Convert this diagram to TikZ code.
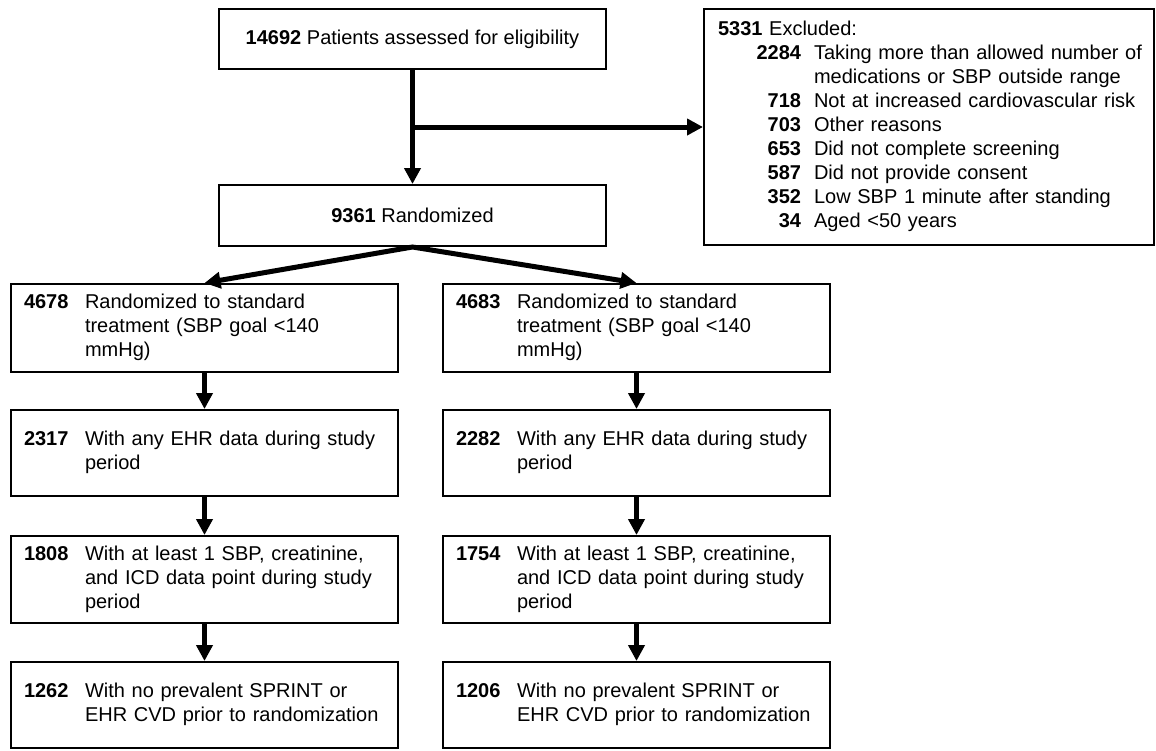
\documentclass[tikz,border=0pt]{standalone}
\usepackage{fontspec}
\setmainfont{Liberation Sans}
\usepackage{array}
\usetikzlibrary{arrows.meta}
\newcommand\flowtext[2]{\begin{tabular}{@{}p{61pt}@{}l@{}}\textbf{#1} & #2\end{tabular}}
\begin{document}
\begin{tikzpicture}[x=1pt,y=-1pt,
  box/.style={draw, line width=2pt, inner sep=0pt, font=\fontsize{20}{24}\selectfont},
  flowbox/.style={box, minimum width=387pt, text width=361pt, inner xsep=13pt, align=left},
  tipstyle/.style={-{Triangle[length=16pt,width=16pt]}},
  conn/.style={line width=5pt, tipstyle}]
\useasboundingbox (0,0) rectangle (1156,750);

\node[box, minimum width=387pt, minimum height=60pt] (top) at (412.5,39)
  {\textbf{14692} Patients assessed for eligibility};
\node[box, minimum width=387pt, minimum height=61pt] (ran) at (412.5,215.5)
  {\textbf{9361} Randomized};
\node[box, anchor=north west, minimum width=450pt, minimum height=236pt,
  text width=422pt, inner xsep=14pt, align=left] (exc) at (703,8)
  {\begin{tabular}{@{}>{\raggedleft\arraybackslash}p{83pt}@{\hspace{13pt}}l@{}}
   \multicolumn{2}{@{}l@{}}{\textbf{5331} Excluded:}\\
   \textbf{2284} & Taking more than allowed number of\\
    & medications or SBP outside range\\
   \textbf{718} & Not at increased cardiovascular risk\\
   \textbf{703} & Other reasons\\
   \textbf{653} & Did not complete screening\\
   \textbf{587} & Did not provide consent\\
   \textbf{352} & Low SBP 1 minute after standing\\
   \textbf{34} & Aged <50 years
   \end{tabular}};

\node[flowbox, minimum height=88pt] (L1) at (204.5,328)
  {\flowtext{4678}{Randomized to standard\\ & treatment (SBP goal <140\\ & mmHg)}};
\node[flowbox, minimum height=86pt] (L2) at (204.5,453)
  {\flowtext{2317}{With any EHR data during study\\ & period}};
\node[flowbox, minimum height=87pt] (L3) at (204.5,579.5)
  {\flowtext{1808}{With at least 1 SBP, creatinine,\\ & and ICD data point during study\\ & period}};
\node[flowbox, minimum height=86pt] (L4) at (204.5,705)
  {\flowtext{1262}{With no prevalent SPRINT or\\ & EHR CVD prior to randomization}};

\node[flowbox, minimum height=88pt] (R1) at (636.5,328)
  {\flowtext{4683}{Randomized to standard\\ & treatment (SBP goal <140\\ & mmHg)}};
\node[flowbox, minimum height=86pt] (R2) at (636.5,453)
  {\flowtext{2282}{With any EHR data during study\\ & period}};
\node[flowbox, minimum height=87pt] (R3) at (636.5,579.5)
  {\flowtext{1754}{With at least 1 SBP, creatinine,\\ & and ICD data point during study\\ & period}};
\node[flowbox, minimum height=86pt] (R4) at (636.5,705)
  {\flowtext{1206}{With no prevalent SPRINT or\\ & EHR CVD prior to randomization}};

\draw[conn] (top.south) -- (ran.north);
\draw[conn] (top.south |- exc.west) -- (exc.west);
\draw[line width=5pt, line join=miter,
  {Triangle[length=16pt,width=16pt]}-{Triangle[length=16pt,width=16pt]}]
  (L1.north) -- (ran.south) -- (R1.north);
\draw[conn] (L1.south) -- (L2.north);
\draw[conn] (L2.south) -- (L3.north);
\draw[conn] (L3.south) -- (L4.north);
\draw[conn] (R1.south) -- (R2.north);
\draw[conn] (R2.south) -- (R3.north);
\draw[conn] (R3.south) -- (R4.north);
\end{tikzpicture}
\end{document}
